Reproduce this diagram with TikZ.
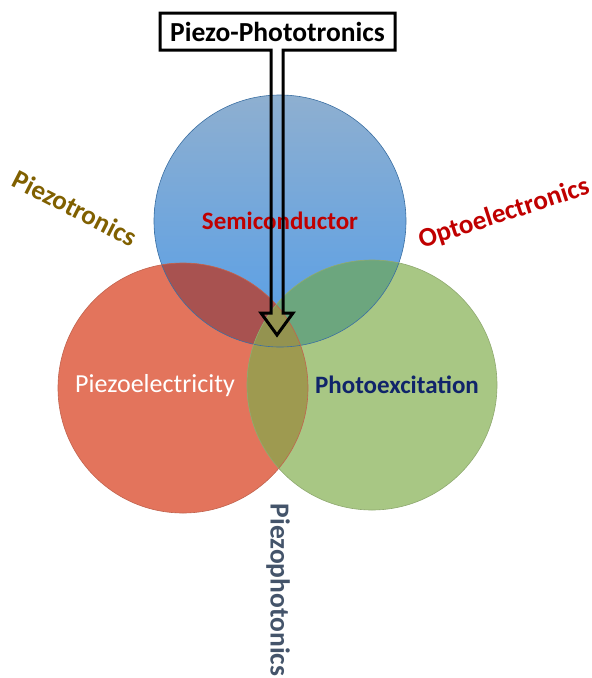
\documentclass[tikz,border=0pt]{standalone}
\usepackage{fontspec}
\setmainfont{Carlito}
\usepackage{tikz}
\definecolor{semired}{HTML}{C00000}
\definecolor{navy}{HTML}{10246A}
\definecolor{olivetext}{HTML}{806000}
\definecolor{slate}{HTML}{44546A}
\definecolor{redfill}{HTML}{E3745C}
\definecolor{greenfill}{HTML}{A8C784}
\definecolor{bluetop}{HTML}{8EAFD0}
\definecolor{bluebot}{HTML}{559EE8}
\definecolor{redblue}{HTML}{A85250}
\definecolor{bluegreen}{HTML}{6CA67E}
\definecolor{redgreen}{HTML}{9E9A50}
\definecolor{allthree}{HTML}{949350}
\tikzset{
  font={\fontsize{25pt}{28}\selectfont\bfseries}}

\begin{document}
\begin{tikzpicture}[x=1pt,y=1pt]
\useasboundingbox (0,0) rectangle (592,-678);
\coordinate (semi) at (280,-221);
\coordinate (piezo) at (183,-388);
\coordinate (photo) at (372,-385);
% circles
\shade [top color=bluetop, bottom color=bluebot] (semi) circle (126);
\fill [redfill] (piezo) circle (125);
\fill [greenfill] (photo) circle (125);
\begin{scope}
\clip (semi) circle (126);
\fill [redblue] (piezo) circle (125);
\fill [bluegreen] (photo) circle (125);
\end{scope}
\begin{scope}
\clip (piezo) circle (125);
\fill [redgreen] (photo) circle (125);
\clip (photo) circle (125);
\fill [allthree] (semi) circle (126);
\end{scope}
\draw [bluebot!70!black, line width=0.6] (semi) circle (126);
\draw [redfill!85!black, line width=0.6] (piezo) circle (125);
\draw [greenfill!85!black, line width=0.6] (photo) circle (125);
% labels
\node (semilbl) [text=semired] at (semi) {Semiconductor};
\node (piezolbl) [text=white, font={\fontsize{26pt}{28}\selectfont}] at (155,-386) {Piezoelectricity};
\node (photolbl) [text=navy] at (397,-385) {Photoexcitation};
\node (tronics) [text=olivetext, rotate=-27, font={\fontsize{27pt}{28}\selectfont\bfseries}] at (75,-208) {Piezotronics};
\node (opto) [text=semired, rotate=18, font={\fontsize{27pt}{28}\selectfont\bfseries}] at (504,-214) {Optoelectronics};
\node (phon) [text=slate, rotate=-90, font={\fontsize{27.5pt}{28}\selectfont\bfseries}] at (278,-590) {Piezophotonics};
% callout
\fill [white] (160,-13) rectangle (395,-50);
\draw [black, line width=3, line join=miter]
  (271,-50) -- (160,-50) -- (160,-13) -- (395,-13) -- (395,-50) -- (283,-50)
  -- (283,-313) -- (293,-313) -- (277,-335) -- (261,-313) -- (271,-313) -- cycle;
\node (callout) [text=black, font={\fontsize{27.5pt}{28}\selectfont\bfseries}] at (277.5,-32) {Piezo-Phototronics};
\end{tikzpicture}
\end{document}
